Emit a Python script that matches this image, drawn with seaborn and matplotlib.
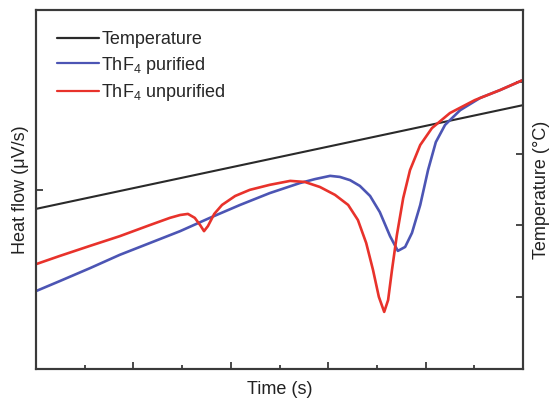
import matplotlib
matplotlib.use("Agg")
import matplotlib.pyplot as plt
from matplotlib.ticker import FixedLocator, NullFormatter
from matplotlib.lines import Line2D
import seaborn as sns
import pandas as pd

# ---- data (arbitrary units) ----
time_temp = [0.0, 10.0]
temperature = [4.46, 7.35]

time_pure = [0.0, 0.49, 1.11, 1.72, 2.34, 2.96, 3.57, 4.19, 4.80, 5.42, 5.73, 6.04,
             6.24, 6.45, 6.65, 6.86, 7.06, 7.27, 7.43, 7.58, 7.72, 7.89, 8.05, 8.21,
             8.40, 8.71, 9.12, 9.53, 10.0]
heat_pure = [2.17, 2.45, 2.81, 3.18, 3.51, 3.84, 4.21, 4.57, 4.90, 5.18, 5.29, 5.38,
             5.35, 5.26, 5.10, 4.82, 4.37, 3.70, 3.29, 3.40, 3.79, 4.57, 5.54, 6.32,
             6.80, 7.21, 7.55, 7.77, 8.05]

time_unpure = [0.0, 0.49, 1.11, 1.72, 2.34, 2.75, 2.96, 3.12, 3.26, 3.37, 3.45, 3.53,
               3.66, 3.82, 4.09, 4.39, 4.80, 5.22, 5.52, 5.83, 6.14, 6.41, 6.61, 6.78,
               6.92, 7.04, 7.15, 7.23, 7.31, 7.41, 7.54, 7.68, 7.89, 8.13, 8.50, 9.01,
               9.53, 10.0]
heat_unpure = [2.92, 3.15, 3.43, 3.70, 4.01, 4.21, 4.29, 4.32, 4.21, 4.01, 3.84, 3.98,
               4.32, 4.57, 4.82, 4.99, 5.13, 5.24, 5.21, 5.07, 4.85, 4.57, 4.15, 3.51,
               2.76, 2.01, 1.59, 1.92, 2.76, 3.73, 4.76, 5.54, 6.24, 6.71, 7.13, 7.49,
               7.77, 8.05]

labels = ["Temperature", "ThF$_4$ purified", "ThF$_4$ unpurified"]
colors = ["#2a2a2a", "#4c55b4", "#e8322b"]

# ---- plot ----
sns.set_theme(style="white")
plt.rcParams["font.family"] = ["Liberation Sans", "DejaVu Sans"]
plt.rcParams["mathtext.fontset"] = "custom"
plt.rcParams["mathtext.rm"] = "Liberation Sans"

fig = plt.figure(figsize=(5.53, 4.0), dpi=100)
ax = fig.add_axes([36 / 553, 31 / 400, 487 / 553, 359 / 400])
ax2 = ax.twinx()

df_pure = pd.DataFrame({"t": time_pure, "h": heat_pure})
df_unpure = pd.DataFrame({"t": time_unpure, "h": heat_unpure})
df_temp = pd.DataFrame({"t": time_temp, "T": temperature})

sns.lineplot(data=df_temp, x="t", y="T", ax=ax2, color=colors[0], lw=1.5,
             estimator=None, sort=False)
sns.lineplot(data=df_pure, x="t", y="h", ax=ax, color=colors[1], lw=1.9,
             estimator=None, sort=False)
sns.lineplot(data=df_unpure, x="t", y="h", ax=ax, color=colors[2], lw=1.9,
             estimator=None, sort=False)

# put the temperature axis behind heat-flow curves
ax.set_zorder(ax2.get_zorder() + 1)
ax.patch.set_visible(False)

for a in (ax, ax2):
    a.set_xlim(0, 10)
    a.set_ylim(0, 10)
    for s in a.spines.values():
        s.set_color("#3a3a3a")
        s.set_linewidth(1.5)

ax.xaxis.set_major_locator(FixedLocator([2, 4, 6, 8]))
ax.xaxis.set_minor_locator(FixedLocator([1, 3, 5, 7, 9]))
ax.yaxis.set_major_locator(FixedLocator([5]))
ax2.yaxis.set_major_locator(FixedLocator([2, 4, 6, 8]))
for a in (ax, ax2):
    a.xaxis.set_major_formatter(NullFormatter())
    a.yaxis.set_major_formatter(NullFormatter())
ax.tick_params(axis="both", which="major", direction="in", length=5, width=1.3,
               color="#3a3a3a", bottom=True, left=True, top=False, right=False, pad=0)
ax.tick_params(axis="x", which="minor", direction="in", length=3, width=1.3,
               color="#3a3a3a", bottom=True, top=False)
ax2.tick_params(axis="y", which="major", direction="in", length=5, width=1.3,
                color="#3a3a3a", right=True, left=False, pad=0)

ax.set_xlabel("Time (s)", fontsize=13, color="#222222", labelpad=5)
ax.set_ylabel("Heat flow (\u03bcV/s)", fontsize=13, color="#222222", labelpad=5)
ax2.set_ylabel("Temperature (\u00b0C)", fontsize=13, color="#222222", labelpad=7)

handles = [Line2D([], [], color=c, lw=1.6) for c in colors]
ax.legend(handles, labels, loc="upper left", bbox_to_anchor=(21 / 487, 0.941),
          frameon=False, fontsize=13, handlelength=2.3, handletextpad=0.15,
          labelspacing=0.35, borderaxespad=0, borderpad=0)

fig.savefig("out.png", dpi=100)
